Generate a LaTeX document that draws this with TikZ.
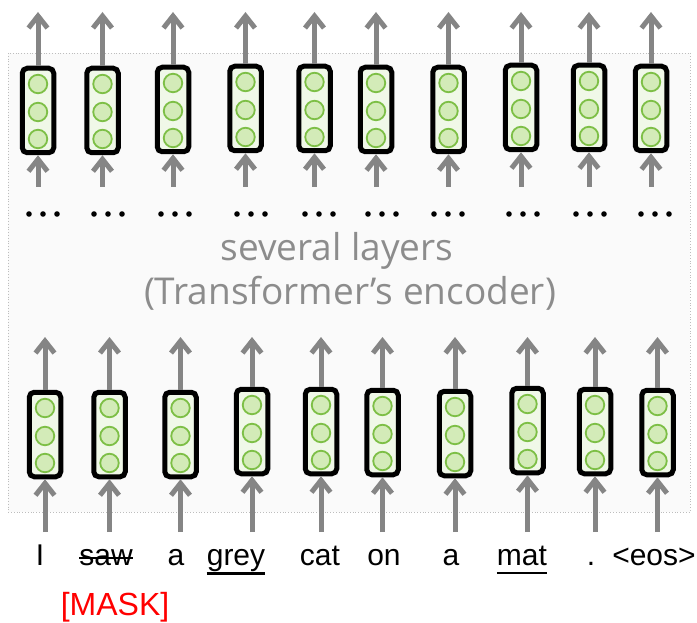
\documentclass[tikz,border=0pt]{standalone}
\usepackage{fontspec}
\setmainfont{Liberation Sans}
\newfontfamily\labelfont{Open Sans}
\usetikzlibrary{arrows.meta}
\definecolor{arrowgray}{HTML}{858585}
\definecolor{boxfill}{HTML}{F0F8E8}
\definecolor{cellfill}{HTML}{D3EBB8}
\definecolor{celledge}{HTML}{7DBF46}
\definecolor{panelfill}{HTML}{FAFAFA}
\definecolor{paneledge}{HTML}{BDBDBD}
\definecolor{labelgray}{HTML}{8C8C8C}
\definecolor{maskred}{HTML}{FF0000}
\begin{document}
\begin{tikzpicture}[x=1pt,y=-1pt,
  vecbox/.style={draw=black, line width=5pt, fill=boxfill, rounded corners=5pt,
                 minimum width=31.5pt, minimum height=84.5pt, inner sep=0pt},
  cell/.style={circle, draw=celledge, line width=1.8pt, fill=cellfill,
               minimum size=18.5pt, inner sep=0pt},
  arr/.style={draw=arrowgray, line width=5pt, -{Straight Barb[length=12pt,width=19pt]}},
  word/.style={font=\fontsize{30}{30}\selectfont, inner sep=0pt, anchor=base},
  dotmark/.style={fill=black},
  layerlabel/.style={font=\labelfont\fontsize{37}{37}\selectfont, text=labelgray,
                     inner sep=0pt, anchor=base},
]
\useasboundingbox (0,0) rectangle (697,623);

% encoder panel
\draw[fill=panelfill, draw=paneledge, line width=0.8pt, dotted] (8,53) rectangle (690,512);

% top layer of vectors
\foreach \i/\x/\t in {1/38/66, 2/102.5/66, 3/173/65, 4/245.5/64, 5/314.5/64,
                      6/376/65, 7/448.5/65, 8/521/63, 9/589/63, 10/651/64}{
  \node[vecbox] (t\i) at (\x,\t+44.5) {};
  \node[cell] (t\i c1) at (\x,\t+18) {};
  \node[cell] (t\i c2) at (\x,\t+46) {};
  \node[cell] (t\i c3) at (\x,\t+73) {};
  \coordinate (t\i out) at (\x,12);
  \coordinate (t\i in) at (\x,187);
  \draw[arr] (t\i.north) -- (t\i out);
  \draw[arr] (t\i in) -- (t\i.south);
}

% ellipses between the layers
\foreach \x in {43,108,175,251,319,382,448,523,590,655}{
  \foreach \d in {-14,0,14}{
    \fill[dotmark] (\x+\d,214) circle (2.8pt);
  }
}

\node[layerlabel] (lab1) at (337,261) {several layers};
\node[layerlabel] (lab2) at (350,305) {(Transformer’s encoder)};

% bottom layer of vectors
\foreach \i/\x/\t in {1/45/390, 2/109.5/390, 3/180.5/390, 4/252/387, 5/321/387,
                      6/382.5/388, 7/455/389, 8/527.5/386, 9/595/387, 10/657.5/388}{
  \node[vecbox] (b\i) at (\x,\t+44.5) {};
  \node[cell] (b\i c1) at (\x,\t+18) {};
  \node[cell] (b\i c2) at (\x,\t+46) {};
  \node[cell] (b\i c3) at (\x,\t+73) {};
  \coordinate (b\i out) at (\x,337);
  \coordinate (b\i in) at (\x,532);
  \draw[arr] (b\i.north) -- (b\i out);
  \draw[arr] (b\i in) -- (b\i.south);
}

% input tokens
\node[word] (w1) at (40,565) {I};
\node[word] (w2) at (106,565) {saw};
\node[word] (w3) at (176,565) {a};
\node[word] (w4) at (236,565) {grey};
\node[word] (w5) at (320,565) {cat};
\node[word] (w6) at (384,565) {on};
\node[word] (w7) at (451,565) {a};
\node[word] (w8) at (522,565) {mat};
\node[word] (w9) at (591,565) {.};
\node[word] (w10) at (654,565) {<eos>};

\draw[line width=2pt] ([yshift=7pt]w2.base west) -- ([yshift=7pt]w2.base east);
\draw[line width=2.6pt] ([yshift=-8.5pt]w4.base west) -- ([yshift=-8.5pt]w4.base east);
\draw[line width=2.6pt] ([yshift=-8pt]w8.base west) -- ([yshift=-8pt]w8.base east);

\node[word, text=maskred, font=\fontsize{32}{32}\selectfont] (mask) at (115,615) {[MASK]};
\end{tikzpicture}
\end{document}
